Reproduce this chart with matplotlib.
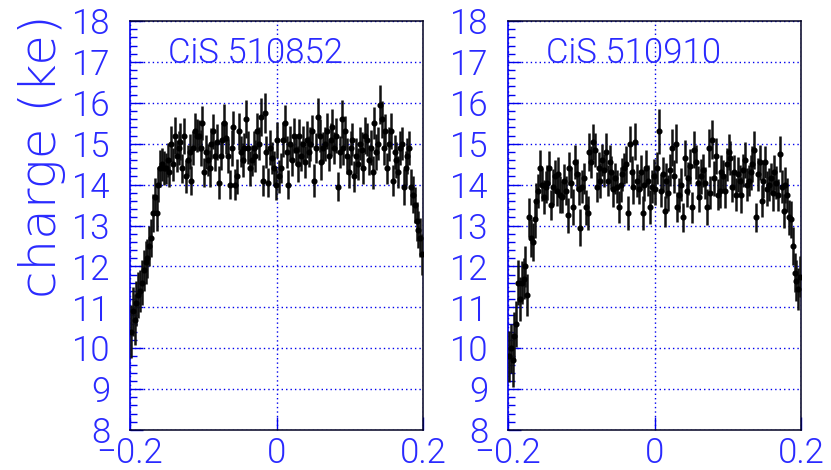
import numpy as np
import matplotlib
matplotlib.use("Agg")
import matplotlib.pyplot as plt
from matplotlib import font_manager as fm
from matplotlib.ticker import MultipleLocator, FixedLocator, FixedFormatter

# ---------------------------------------------------------------- data
x_min, x_max = -0.2, 0.2
n_bins = 160

titles = ["CiS 510852", "CiS 510910"]

charge_510852 = [
    10.4, 10.9, 10.7, 11.1, 11.3, 11.4, 11.6, 11.9, 12.1, 12.2,
    12.5, 12.7, 13.3, 13.7, 13.3, 14.0, 14.4, 14.5, 14.4, 14.4,
    14.6, 14.3, 15.0, 14.5, 15.2, 14.7, 14.9, 15.05, 14.4, 15.2,
    14.2, 14.6, 14.8, 14.1, 14.9, 15.3, 15.2, 15.2, 14.9, 15.5,
    14.3, 14.8, 14.6, 14.4, 15.0, 15.3, 14.7, 15.05, 14.05, 14.7,
    15.1, 15.5, 15.15, 14.7, 14.0, 14.9, 15.4, 14.0, 14.2, 15.3,
    14.8, 14.6, 14.9, 15.6, 14.9, 14.4, 14.6, 14.9, 14.7, 15.3,
    15.0, 15.65, 14.1, 15.75, 14.8, 14.05, 14.9, 14.65, 14.4, 14.0,
    15.1, 14.2, 14.4, 15.1, 15.5, 14.8, 14.0, 15.0, 14.6, 15.2,
    14.85, 14.5, 15.2, 14.7, 15.0, 14.55, 15.1, 14.8, 15.0, 15.3,
    14.1, 14.9, 15.65, 15.2, 14.55, 14.9, 15.0, 15.3, 14.7, 15.1,
    15.4, 14.9, 15.2, 13.95, 14.8, 15.6, 14.9, 15.3, 14.7, 14.3,
    14.9, 15.1, 14.2, 14.7, 14.5, 15.0, 14.85, 14.4, 15.2, 15.1,
    14.6, 14.9, 14.3, 15.5, 14.8, 15.0, 15.95, 15.6, 14.9, 15.3,
    14.4, 15.0, 15.3, 14.1, 14.8, 14.6, 14.3, 14.9, 15.0, 13.95,
    14.4, 14.7, 14.9, 13.95, 13.75, 13.5, 13.1, 12.9, 12.7, 12.3,
]

error_510852 = [
    0.65, 0.60, 0.62, 0.55, 0.56, 0.52, 0.55, 0.50, 0.52, 0.48,
    0.50, 0.46, 0.47, 0.45, 0.44, 0.42, 0.45, 0.40, 0.42, 0.38,
    0.42, 0.36, 0.44, 0.40, 0.46, 0.38, 0.42, 0.45, 0.36, 0.44,
    0.40, 0.38, 0.43, 0.35, 0.42, 0.46, 0.40, 0.38, 0.44, 0.41,
    0.36, 0.42, 0.40, 0.45, 0.38, 0.43, 0.37, 0.44, 0.40, 0.35,
    0.42, 0.46, 0.39, 0.41, 0.36, 0.44, 0.40, 0.37, 0.43, 0.45,
    0.38, 0.41, 0.36, 0.47, 0.40, 0.43, 0.38, 0.42, 0.39, 0.44,
    0.41, 0.46, 0.37, 0.48, 0.40, 0.36, 0.43, 0.39, 0.41, 0.38,
    0.44, 0.40, 0.37, 0.42, 0.45, 0.39, 0.36, 0.43, 0.40, 0.42,
    0.38, 0.44, 0.41, 0.36, 0.43, 0.40, 0.45, 0.38, 0.42, 0.39,
    0.41, 0.37, 0.46, 0.40, 0.43, 0.38, 0.42, 0.44, 0.37, 0.41,
    0.45, 0.39, 0.42, 0.36, 0.40, 0.47, 0.41, 0.38, 0.43, 0.39,
    0.42, 0.40, 0.37, 0.44, 0.39, 0.41, 0.43, 0.38, 0.45, 0.40,
    0.36, 0.43, 0.41, 0.39, 0.44, 0.40, 0.48, 0.45, 0.41, 0.43,
    0.38, 0.42, 0.44, 0.37, 0.41, 0.43, 0.39, 0.42, 0.40, 0.44,
    0.41, 0.43, 0.42, 0.44, 0.45, 0.43, 0.47, 0.46, 0.48, 0.50,
]

charge_510910 = [
    9.8, 10.0, 9.7, 10.3, 10.6, 11.6, 11.2, 11.6, 11.7, 12.0,
    11.3, 13.2, 12.7, 12.6, 13.15, 13.6, 13.85, 14.4, 14.0, 13.7,
    13.95, 14.05, 14.4, 13.5, 13.95, 14.2, 13.85, 14.25, 13.75, 13.7,
    14.1, 13.85, 13.25, 14.4, 14.05, 13.45, 14.55, 14.25, 13.9, 12.95,
    13.95, 14.15, 13.45, 13.3, 14.8, 14.55, 15.05, 14.85, 13.95, 14.4,
    14.1, 14.6, 14.35, 14.8, 14.1, 14.55, 14.3, 13.9, 14.15, 13.95,
    13.45, 14.0, 14.25, 14.4, 14.5, 13.3, 15.0, 14.3, 13.95, 15.05,
    14.1, 13.9, 14.3, 13.3, 14.0, 14.4, 14.1, 13.45, 13.95, 14.2,
    13.9, 14.4, 15.3, 13.85, 14.25, 13.35, 14.1, 13.8, 14.35, 14.9,
    14.2, 15.0, 13.45, 13.75, 14.0, 13.2, 14.65, 13.85, 14.15, 14.45,
    13.45, 14.85, 14.55, 14.05, 13.7, 14.2, 14.35, 14.05, 13.45, 14.9,
    13.8, 15.1, 14.15, 14.7, 13.75, 13.85, 14.3, 14.2, 13.85, 14.5,
    14.8, 14.65, 13.95, 14.3, 13.75, 14.25, 14.1, 13.75, 14.35, 14.6,
    14.0, 14.1, 14.3, 14.5, 14.85, 13.2, 14.25, 14.55, 13.6, 14.1,
    14.55, 13.9, 14.0, 14.15, 13.8, 14.3, 14.05, 13.75, 14.75, 13.95,
    13.35, 14.0, 13.75, 13.2, 13.15, 12.5, 11.85, 11.65, 11.45, 11.75,
]

error_510910 = [
    0.62, 0.60, 0.65, 0.58, 0.56, 0.55, 0.53, 0.52, 0.50, 0.50,
    0.52, 0.48, 0.47, 0.46, 0.45, 0.44, 0.42, 0.44, 0.40, 0.42,
    0.39, 0.43, 0.41, 0.37, 0.44, 0.40, 0.38, 0.42, 0.45, 0.39,
    0.41, 0.36, 0.43, 0.40, 0.38, 0.44, 0.42, 0.37, 0.41, 0.45,
    0.40, 0.38, 0.43, 0.41, 0.46, 0.39, 0.44, 0.42, 0.37, 0.40,
    0.43, 0.39, 0.41, 0.45, 0.38, 0.42, 0.40, 0.44, 0.37, 0.41,
    0.39, 0.43, 0.40, 0.38, 0.45, 0.41, 0.44, 0.39, 0.42, 0.46,
    0.40, 0.37, 0.43, 0.41, 0.39, 0.44, 0.38, 0.42, 0.40, 0.43,
    0.41, 0.39, 0.55, 0.40, 0.43, 0.38, 0.42, 0.44, 0.39, 0.45,
    0.41, 0.48, 0.37, 0.42, 0.40, 0.36, 0.44, 0.39, 0.41, 0.43,
    0.38, 0.45, 0.42, 0.40, 0.37, 0.43, 0.41, 0.39, 0.44, 0.46,
    0.40, 0.48, 0.42, 0.44, 0.38, 0.41, 0.43, 0.39, 0.42, 0.40,
    0.44, 0.41, 0.38, 0.43, 0.40, 0.42, 0.39, 0.44, 0.41, 0.43,
    0.40, 0.38, 0.42, 0.44, 0.46, 0.36, 0.41, 0.43, 0.39, 0.42,
    0.40, 0.43, 0.41, 0.38, 0.44, 0.42, 0.40, 0.39, 0.45, 0.41,
    0.42, 0.44, 0.41, 0.43, 0.45, 0.46, 0.48, 0.50, 0.52, 0.50,
]

y_ticks = [8, 9, 10, 11, 12, 13, 14, 15, 16, 17, 18]
x_ticks = [-0.2, 0.0, 0.2]
x_tick_labels = ["\u22120.2", "0", "0.2"]
y_label = "charge (ke)"

# bin centres along the strip position
bin_width = (x_max - x_min) / n_bins
x_centres = x_min + bin_width * (np.arange(n_bins) + 0.5)

# ---------------------------------------------------------------- fonts
def light_font(names, target=300):
    for name in names:
        cands = [f for f in fm.fontManager.ttflist
                 if f.name == name and f.style == "normal"]
        light = []
        for f in cands:
            try:
                w = int(f.weight)
            except (TypeError, ValueError):
                continue
            if 200 <= w <= 320:
                light.append((abs(w - target), f.fname))
        if light:
            light.sort()
            return fm.FontProperties(fname=light[0][1])
    return None

base_font = light_font(["Roboto", "Open Sans", "Lato", "Inter", "Noto Sans"]) \
    or fm.FontProperties(family="DejaVu Sans")
# a wider face for the long axis title
wide_font = light_font(["DejaVu Sans", "Open Sans", "Noto Sans", "Roboto"]) or base_font


def font(size, base=base_font):
    fp = base.copy()
    fp.set_size(size)
    return fp

BLUE_TEXT = "#2a2aff"
BLUE_AXIS = "#0000ee"
FRAME = "#000022"

# ---------------------------------------------------------------- figure
W, H = 831, 470
fig = plt.figure(figsize=(W / 100, H / 100), dpi=100)

panels = [
    (charge_510852, error_510852, titles[0], 130),
    (charge_510910, error_510910, titles[1], 508),
]

for values, errors, title, left_px in panels:
    ax = fig.add_axes([left_px / W, 1 - 430 / H, 293 / W, 409 / H])
    ax.set_xlim(x_min, x_max)
    ax.set_ylim(8, 18)

    ax.errorbar(x_centres, values, yerr=errors, fmt="o", ms=3.4,
                color="black", ecolor="#111111", elinewidth=1.8,
                capsize=0, zorder=3)

    # axes frame
    for side in ["top", "right", "bottom"]:
        ax.spines[side].set_color(FRAME)
        ax.spines[side].set_linewidth(1.1)
    ax.spines["left"].set_color(BLUE_AXIS)
    ax.spines["left"].set_linewidth(1.2)

    # ticks
    ax.yaxis.set_major_locator(FixedLocator(y_ticks))
    ax.yaxis.set_minor_locator(MultipleLocator(0.2))
    ax.xaxis.set_major_locator(FixedLocator(x_ticks))
    ax.xaxis.set_major_formatter(FixedFormatter(x_tick_labels))
    ax.tick_params(axis="y", which="major", direction="in", length=9.5,
                   width=1.0, color=BLUE_AXIS, pad=14, right=False)
    ax.tick_params(axis="y", which="minor", direction="in", length=5,
                   width=1.0, color=BLUE_AXIS, right=False)
    ax.tick_params(axis="x", which="major", direction="in", length=9.5,
                   width=1.0, color=BLUE_AXIS, pad=5, top=False)
    for lab in ax.get_yticklabels() + ax.get_xticklabels():
        lab.set_fontproperties(font(25))
        lab.set_color(BLUE_TEXT)

    # dotted grid
    ax.grid(True, which="major", color=BLUE_AXIS, linestyle=(0, (1, 2.2)),
            linewidth=1.0, zorder=1)
    ax.set_axisbelow(True)

    ax.text(0.13, 0.897, title, transform=ax.transAxes, color=BLUE_TEXT,
            fontproperties=font(25), ha="left", va="baseline")

fig.text(42 / W, 1 - 15 / H, y_label, rotation=90, ha="center", va="top",
         color=BLUE_TEXT, fontproperties=font(36, wide_font))

fig.savefig("out.png", dpi=100)
